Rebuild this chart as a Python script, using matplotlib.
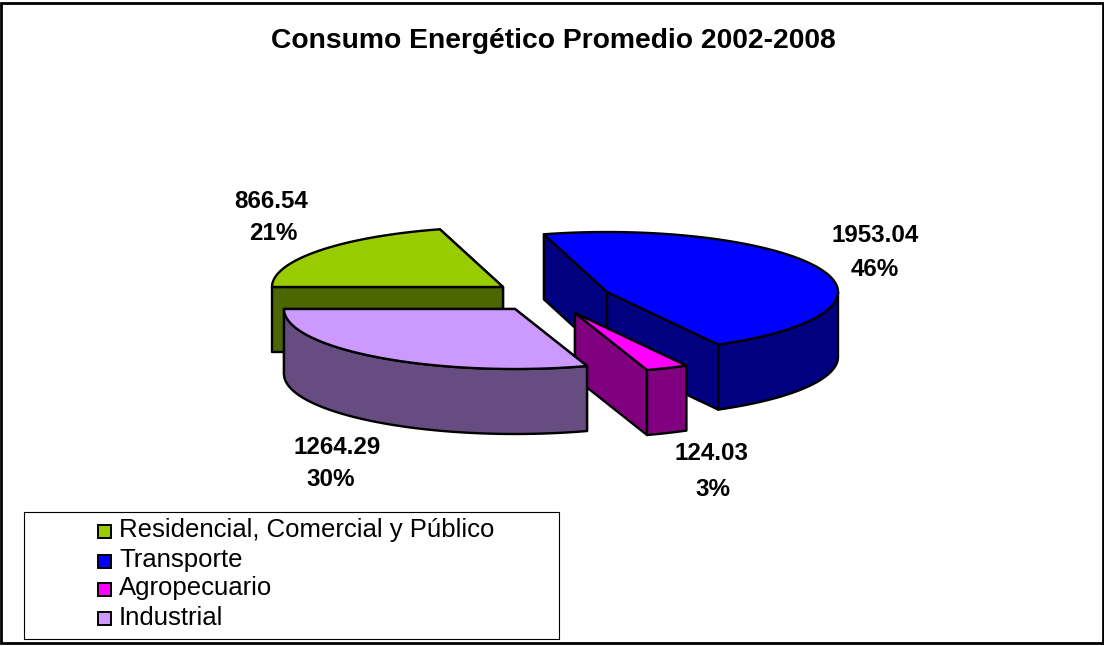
import numpy as np
import matplotlib
matplotlib.use("Agg")
import matplotlib.pyplot as plt
from matplotlib.patches import Polygon, Rectangle

title = "Consumo Energético Promedio 2002-2008"
names = ["Residencial, Comercial y Público", "Transporte", "Agropecuario", "Industrial"]
values = [866.54, 1953.04, 124.03, 1264.29]
percents = [21, 46, 3, 30]

top_colors = ["#99CC00", "#0000FF", "#FF00FF", "#CC99FF"]
side_colors = ["#4C6600", "#000080", "#800080", "#664C80"]

# where each exploded slice has its apex, in pixels
apex = [(503, 287), (607, 292), (575, 313), (515, 309)]
label_pos = [(271, 202, 273, 234), (875, 235, 875, 269), (711, 454, 713, 489), (337, 447, 331, 479)]
legend_base = [537, 567, 595, 625]
legend_mid = [531, 561, 589, 618]

RX = 231
RY = 60
DEPTH = 65
START = 270  # degrees clockwise from the top
LW = 1.7

plt.rcParams['font.family'] = ['Liberation Sans', 'DejaVu Sans']

fig = plt.figure(figsize=(11.04, 6.46), dpi=100)
ax = fig.add_axes([0, 0, 1, 1])
ax.set_xlim(0, 1104)
ax.set_ylim(646, 0)
ax.axis("off")


def rim(cx, cy, a0, a1):
    """points along the rim between two angles"""
    a = np.radians(np.linspace(a0, a1, max(int(abs(a1 - a0) * 2), 2)))
    return np.column_stack((cx + RX * np.sin(a), cy - RY * np.cos(a)))


def draw_slice(cx, cy, a0, a1, top, side):
    # flat cut faces, back one first
    ends = [rim(cx, cy, a, a + 1)[0] for a in (a0, a1)]
    ends.sort(key=lambda p: p[1])
    for p in ends:
        face = [(cx, cy), tuple(p), (p[0], p[1] + DEPTH), (cx, cy + DEPTH)]
        ax.add_patch(Polygon(face, closed=True, fc=side, ec="k", lw=LW, joinstyle="round"))
    # outer wall, only the part facing the viewer (angles can run past 360)
    for turn in (0, 360):
        lo = max(a0, 90 + turn)
        hi = min(a1, 270 + turn)
        if hi > lo:
            r = rim(cx, cy, lo, hi)
            wall = np.vstack((r, r[::-1] + [0, DEPTH]))
            ax.add_patch(Polygon(wall, closed=True, fc=side, ec="k", lw=LW, joinstyle="round"))
    # top
    face = np.vstack(([(cx, cy)], rim(cx, cy, a0, a1)))
    ax.add_patch(Polygon(face, closed=True, fc=top, ec="k", lw=LW, joinstyle="round"))


total = sum(values)
angle = START
for i in range(len(values)):
    sweep = 360 * values[i] / total
    draw_slice(apex[i][0], apex[i][1], angle, angle + sweep, top_colors[i], side_colors[i])
    angle += sweep

for i in range(len(values)):
    x1, y1, x2, y2 = label_pos[i]
    ax.text(x1, y1, f"{values[i]:.2f}", ha="center", va="center", fontsize=17.4, fontweight="bold")
    ax.text(x2, y2, f"{percents[i]}%", ha="center", va="center", fontsize=17.4, fontweight="bold")

ax.text(553, 41, title, ha="center", va="center", fontsize=20.3, fontweight="bold")

# legend box
ax.add_patch(Rectangle((23.5, 511.5), 535, 127, fc="w", ec="k", lw=0.8))
for i in range(len(names)):
    ax.add_patch(Rectangle((98, legend_mid[i] - 6.5), 13, 13, fc=top_colors[i], ec="k", lw=1.4))
    ax.text(119, legend_base[i], names[i], ha="left", va="baseline", fontsize=18.5)

# chart frame
ax.add_patch(Rectangle((1, 3), 1102, 640, fc="none", ec="k", lw=2))

fig.savefig("out.png", dpi=100)
